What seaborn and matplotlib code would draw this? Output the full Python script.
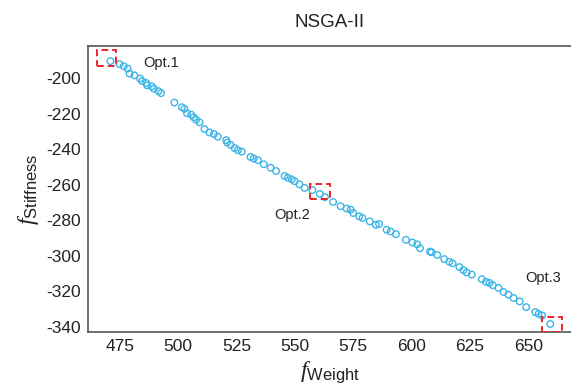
import matplotlib
matplotlib.use("Agg")
import matplotlib.pyplot as plt
import matplotlib.patches as mpatches
import seaborn as sns
import pandas as pd

# Pareto front points
weight = [471.0, 474.9, 476.7, 478.4, 479.2, 481.3, 483.7, 484.6, 486.3, 486.7,
          488.7, 489.6, 491.6, 492.7, 498.4, 501.6, 502.7, 503.8, 505.6, 506.7,
          507.7, 509.2, 511.3, 513.4, 515.3, 517.0, 520.6, 521.0, 522.5, 524.2,
          525.6, 527.3, 531.0, 532.4, 534.2, 536.7, 539.6, 542.0, 545.6, 547.0,
          548.7, 549.9, 552.0, 554.2, 557.5, 560.7, 562.9, 566.4, 569.6, 572.2,
          573.9, 575.0, 577.6, 579.0, 582.1, 584.7, 586.1, 589.3, 591.0, 593.3,
          597.6, 600.4, 602.4, 603.6, 607.9, 608.6, 611.0, 614.0, 616.2, 617.6,
          620.5, 622.2, 623.6, 625.8, 630.1, 631.9, 633.4, 634.8, 637.2, 639.4,
          641.5, 643.7, 646.3, 649.1, 653.0, 654.4, 655.9, 659.4]
stiffness = [-190.5, -192.2, -193.4, -194.7, -197.5, -198.5, -200.3, -201.7, -202.8, -204.1,
             -204.7, -206.0, -207.4, -208.5, -213.8, -216.4, -217.3, -219.8, -220.6, -222.1,
             -223.4, -224.9, -228.7, -230.6, -231.5, -233.0, -234.9, -236.3, -237.6, -239.4,
             -240.6, -241.4, -244.4, -245.3, -246.2, -248.5, -250.4, -252.3, -255.1, -256.1,
             -257.0, -258.0, -259.8, -261.8, -263.0, -265.2, -267.0, -269.7, -272.1, -273.4,
             -274.0, -275.9, -277.8, -278.7, -280.6, -282.5, -282.1, -285.3, -286.3, -287.8,
             -291.0, -292.5, -293.5, -295.7, -297.6, -298.0, -299.5, -301.8, -303.3, -304.2,
             -306.3, -308.0, -309.3, -310.5, -313.1, -314.6, -315.2, -316.5, -318.0, -320.3,
             -321.8, -323.7, -325.6, -328.8, -331.6, -332.6, -333.5, -338.3]

# selected optima: label, box centre, label position
opt_names = ["Opt.1", "Opt.2", "Opt.3"]
opt_x = [469.4, 560.9, 660.2]
opt_y = [-188.6, -263.9, -338.5]
label_x = [492.8, 549.0, 656.4]
label_y = [-191.6, -277.2, -312.4]

df = pd.DataFrame({"weight": weight, "stiffness": stiffness})

sns.set_style("white")
plt.rcParams["font.family"] = ["Liberation Sans", "DejaVu Sans"]
plt.rcParams["axes.unicode_minus"] = False
plt.rcParams["mathtext.fontset"] = "custom"
plt.rcParams["mathtext.rm"] = "Liberation Sans"
plt.rcParams["mathtext.it"] = "Liberation Serif:italic"

fig = plt.figure(figsize=(5.71, 3.91), dpi=100)
ax = fig.add_axes([88 / 571, 1 - 332 / 391, 1 - 88 / 571, (332 - 46) / 391])

sns.scatterplot(data=df, x="weight", y="stiffness", ax=ax, s=22,
                facecolors="none", edgecolor="#3db5e6", linewidth=1.0)

for name, bx, by, lx, ly in zip(opt_names, opt_x, opt_y, label_x, label_y):
    w, h = 8.4, 8.8
    ax.add_patch(mpatches.Rectangle((bx - w / 2, by - h / 2), w, h, fill=False,
                                    edgecolor="#e8262a", linestyle=(0, (3.5, 2)),
                                    linewidth=1.4, zorder=5))
    ax.text(lx, ly, name, ha="center", va="center", fontsize=10.5, color="#222222")

ax.set_xlim(461.4, 668.3)
ax.set_ylim(-342.8, -182.0)
ax.set_xticks([475, 500, 525, 550, 575, 600, 625, 650])
ax.set_yticks([-200, -220, -240, -260, -280, -300, -320, -340])
ax.tick_params(direction="in", length=4, width=1, colors="#555555",
               labelcolor="#222222", labelsize=12.5, pad=5)

for side in ["left", "bottom", "top"]:
    ax.spines[side].set_color("#555555")
    ax.spines[side].set_linewidth(1.2)
ax.spines["right"].set_visible(False)

ax.set_xlabel(r"$f_{\mathrm{Weight}}$", fontsize=17, color="#222222", labelpad=4)
ax.set_ylabel(r"$f_{\mathrm{Stiffness}}$", fontsize=17, color="#222222", labelpad=4)
ax.set_title("NSGA-II", fontsize=13.5, color="#222222", pad=14)

fig.savefig("out.png", dpi=100)
